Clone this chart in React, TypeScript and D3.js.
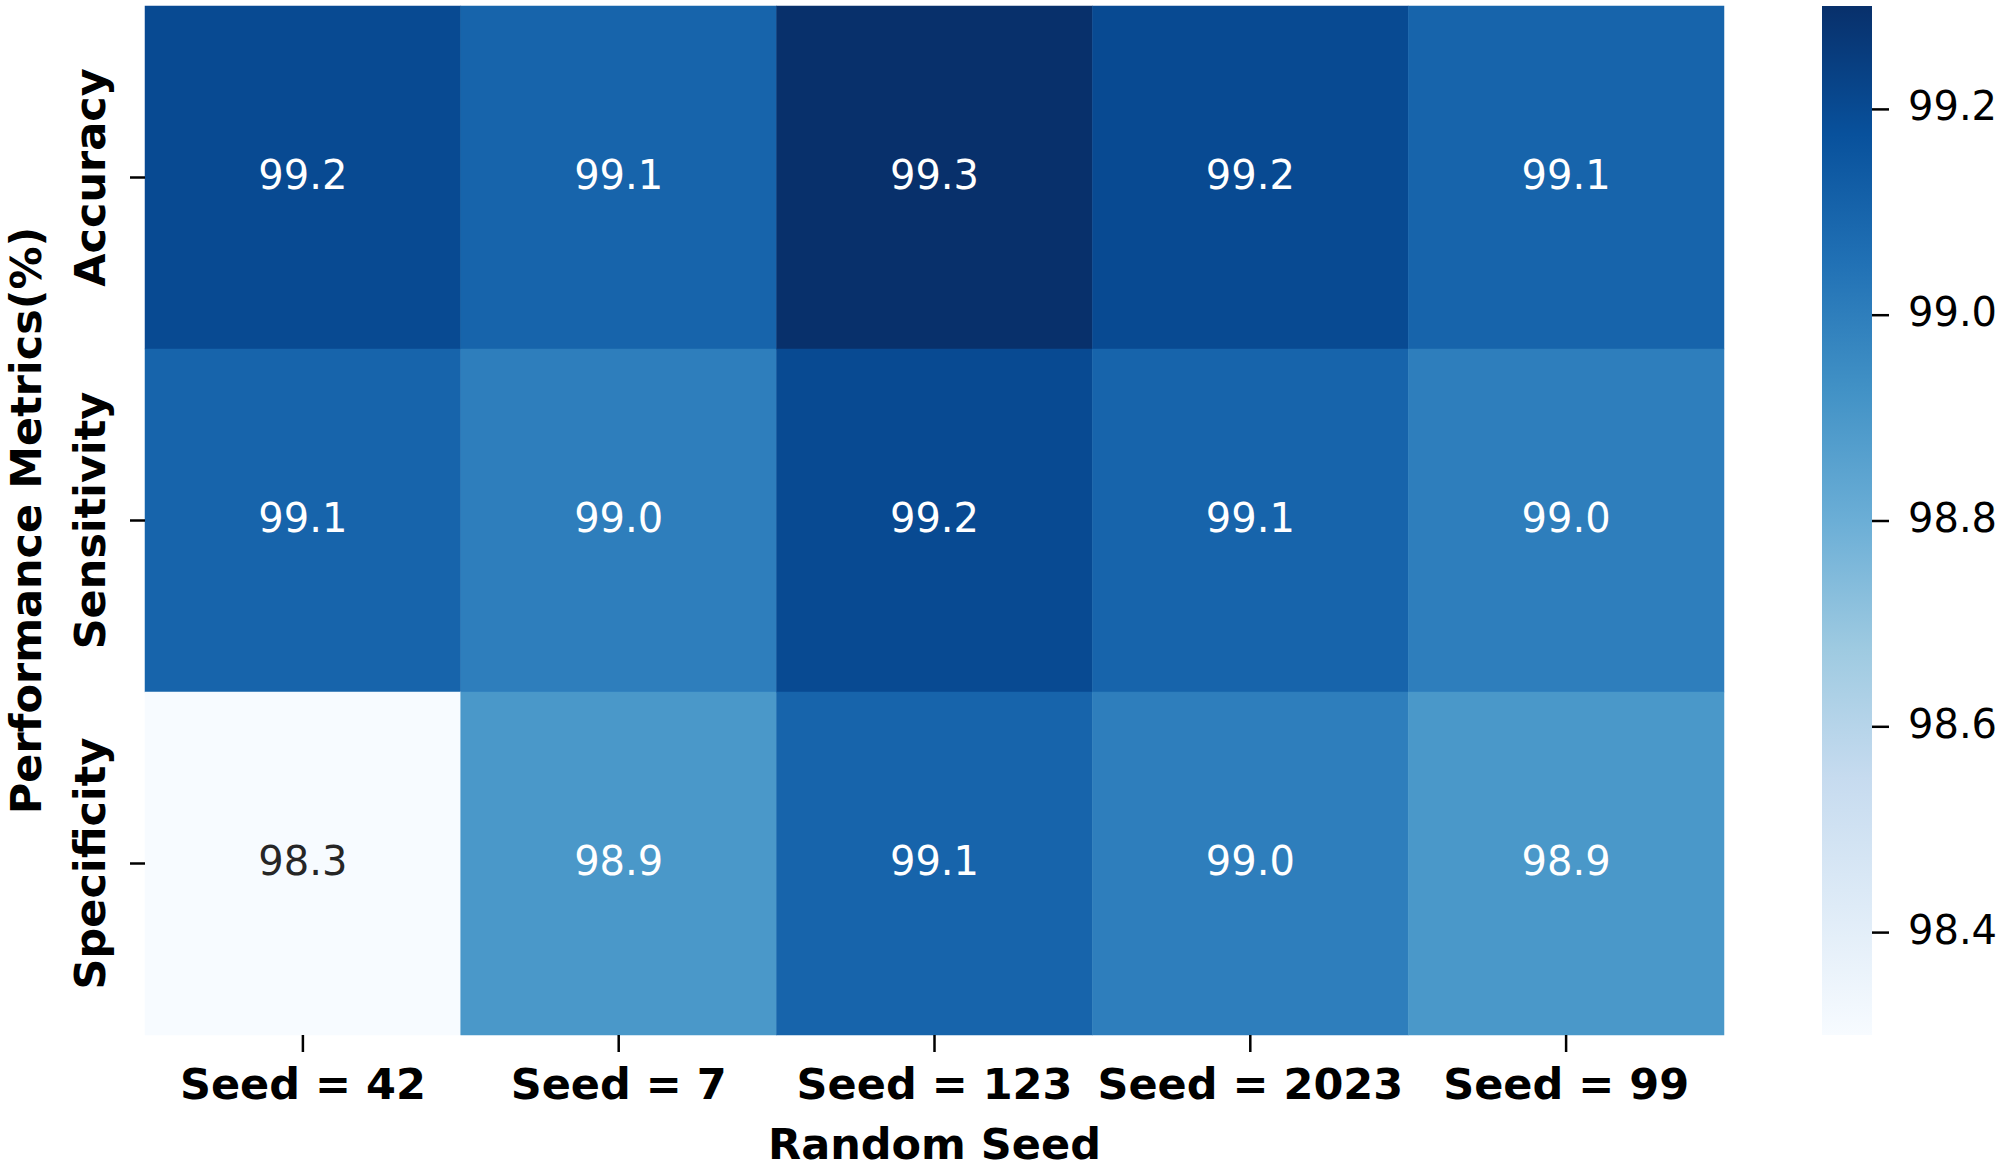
import * as d3 from "d3";
import { useEffect, useRef } from "react";

const seeds = ["Seed = 42", "Seed = 7", "Seed = 123", "Seed = 2023", "Seed = 99"];
const metrics = ["Accuracy", "Sensitivity", "Specificity"];
const accuracy = [99.2, 99.1, 99.3, 99.2, 99.1];
const sensitivity = [99.1, 99.0, 99.2, 99.1, 99.0];
const specificity = [98.3, 98.9, 99.1, 99.0, 98.9];
const colorbarTicks = [98.4, 98.6, 98.8, 99.0, 99.2];

// matplotlib "Blues" control points
const blues = [
  "#f7fbff", "#deebf7", "#c6dbef", "#9ecae1", "#6baed6",
  "#4292c6", "#2171b5", "#08519c", "#08306b",
];

const WIDTH = 2008;
const HEIGHT = 1168;
const PLOT = { left: 145, right: 1724, top: 6, bottom: 1035 };
const CBAR = { left: 1822, right: 1872 };
const FONT = "DejaVu Sans";

interface Cell {
  metric: string;
  seed: string;
  value: number;
}

export default function App() {
  const svgRef = useRef<SVGSVGElement | null>(null);

  useEffect(() => {
    if (!svgRef.current) return;
    const rows = [accuracy, sensitivity, specificity];
    const cells: Cell[] = metrics.flatMap((m, i) =>
      seeds.map((s, j) => ({ metric: m, seed: s, value: rows[i][j] })),
    );
    const vmin = d3.min(cells, (d) => d.value) ?? 0;
    const vmax = d3.max(cells, (d) => d.value) ?? 1;

    const color = d3
      .scaleLinear<string>()
      .domain(blues.map((_, i) => vmin + (i * (vmax - vmin)) / (blues.length - 1)))
      .range(blues)
      .interpolate(d3.interpolateRgb);

    const x = d3.scaleBand<string>().domain(seeds).range([PLOT.left, PLOT.right]);
    const y = d3.scaleBand<string>().domain(metrics).range([PLOT.top, PLOT.bottom]);
    const cy = d3.scaleLinear().domain([vmin, vmax]).range([PLOT.bottom, PLOT.top]);

    const svg = d3.select(svgRef.current);
    svg.selectAll("*").remove();
    svg.attr("viewBox", `0 0 ${WIDTH} ${HEIGHT}`).style("font-family", FONT);

    // cells
    svg
      .append("g")
      .selectAll("rect")
      .data(cells)
      .join("rect")
      .attr("x", (d) => x(d.seed) ?? 0)
      .attr("y", (d) => y(d.metric) ?? 0)
      .attr("width", x.bandwidth())
      .attr("height", y.bandwidth())
      .attr("fill", (d) => color(d.value))
      .attr("stroke", (d) => color(d.value))
      .attr("stroke-width", 0.5);

    svg
      .append("g")
      .selectAll("text")
      .data(cells)
      .join("text")
      .attr("x", (d) => (x(d.seed) ?? 0) + x.bandwidth() / 2)
      .attr("y", (d) => (y(d.metric) ?? 0) + y.bandwidth() / 2 + 11)
      .attr("text-anchor", "middle")
      .attr("font-size", 40)
      .attr("fill", (d) => (d.value < vmin + (vmax - vmin) * 0.4 ? "#262626" : "#ffffff"))
      .text((d) => d.value.toFixed(1));

    // x axis
    const xAxis = svg
      .append("g")
      .attr("transform", `translate(0,${PLOT.bottom})`)
      .call(d3.axisBottom(x).tickSize(17).tickSizeOuter(0));
    xAxis.select(".domain").remove();
    xAxis.selectAll(".tick line").attr("stroke", "#000").attr("stroke-width", 2.5);
    xAxis
      .selectAll(".tick text")
      .attr("y", 64)
      .attr("dy", 0)
      .attr("fill", "#000")
      .attr("font-size", 43)
      .attr("font-weight", "bold")
      .attr("font-family", FONT);

    // y axis
    const yAxis = svg
      .append("g")
      .attr("transform", `translate(${PLOT.left},0)`)
      .call(d3.axisLeft(y).tickSize(15).tickSizeOuter(0));
    yAxis.select(".domain").remove();
    yAxis.selectAll(".tick line").attr("stroke", "#000").attr("stroke-width", 2.5);
    yAxis
      .selectAll(".tick text")
      .attr("x", 0)
      .attr("dy", 0)
      .attr("text-anchor", "middle")
      .attr("transform", "translate(-40,0) rotate(-90)")
      .attr("fill", "#000")
      .attr("font-size", 43)
      .attr("font-weight", "bold")
      .attr("font-family", FONT);

    // axis titles
    svg
      .append("text")
      .attr("x", (PLOT.left + PLOT.right) / 2)
      .attr("y", 1159)
      .attr("text-anchor", "middle")
      .attr("font-size", 43)
      .attr("font-weight", "bold")
      .text("Random Seed");

    svg
      .append("text")
      .attr("transform", `translate(41,${(PLOT.top + PLOT.bottom) / 2}) rotate(-90)`)
      .attr("text-anchor", "middle")
      .attr("font-size", 43)
      .attr("font-weight", "bold")
      .text("Performance Metrics(%)");

    // colorbar
    const grad = svg
      .append("defs")
      .append("linearGradient")
      .attr("id", "cbar-grad")
      .attr("x1", 0)
      .attr("y1", 1)
      .attr("x2", 0)
      .attr("y2", 0);
    grad
      .selectAll("stop")
      .data(blues)
      .join("stop")
      .attr("offset", (_, i) => i / (blues.length - 1))
      .attr("stop-color", (d) => d);

    svg
      .append("rect")
      .attr("x", CBAR.left)
      .attr("y", PLOT.top)
      .attr("width", CBAR.right - CBAR.left)
      .attr("height", PLOT.bottom - PLOT.top)
      .attr("fill", "url(#cbar-grad)");

    const cAxis = svg
      .append("g")
      .attr("transform", `translate(${CBAR.right},0)`)
      .call(
        d3
          .axisRight(cy)
          .tickValues(colorbarTicks)
          .tickFormat(d3.format(".1f"))
          .tickSize(17)
          .tickSizeOuter(0),
      );
    cAxis.select(".domain").remove();
    cAxis.selectAll(".tick line").attr("stroke", "#000").attr("stroke-width", 2.5);
    cAxis
      .selectAll(".tick text")
      .attr("x", 36)
      .attr("dy", 0)
      .attr("y", 11)
      .attr("fill", "#000")
      .attr("font-size", 40)
      .attr("font-family", FONT);
  }, []);

  return (
    <div style={{ position: "absolute", left: 0, top: 0, background: "#fff" }}>
      <svg ref={svgRef} width={WIDTH} height={HEIGHT} role="img" />
    </div>
  );
}
